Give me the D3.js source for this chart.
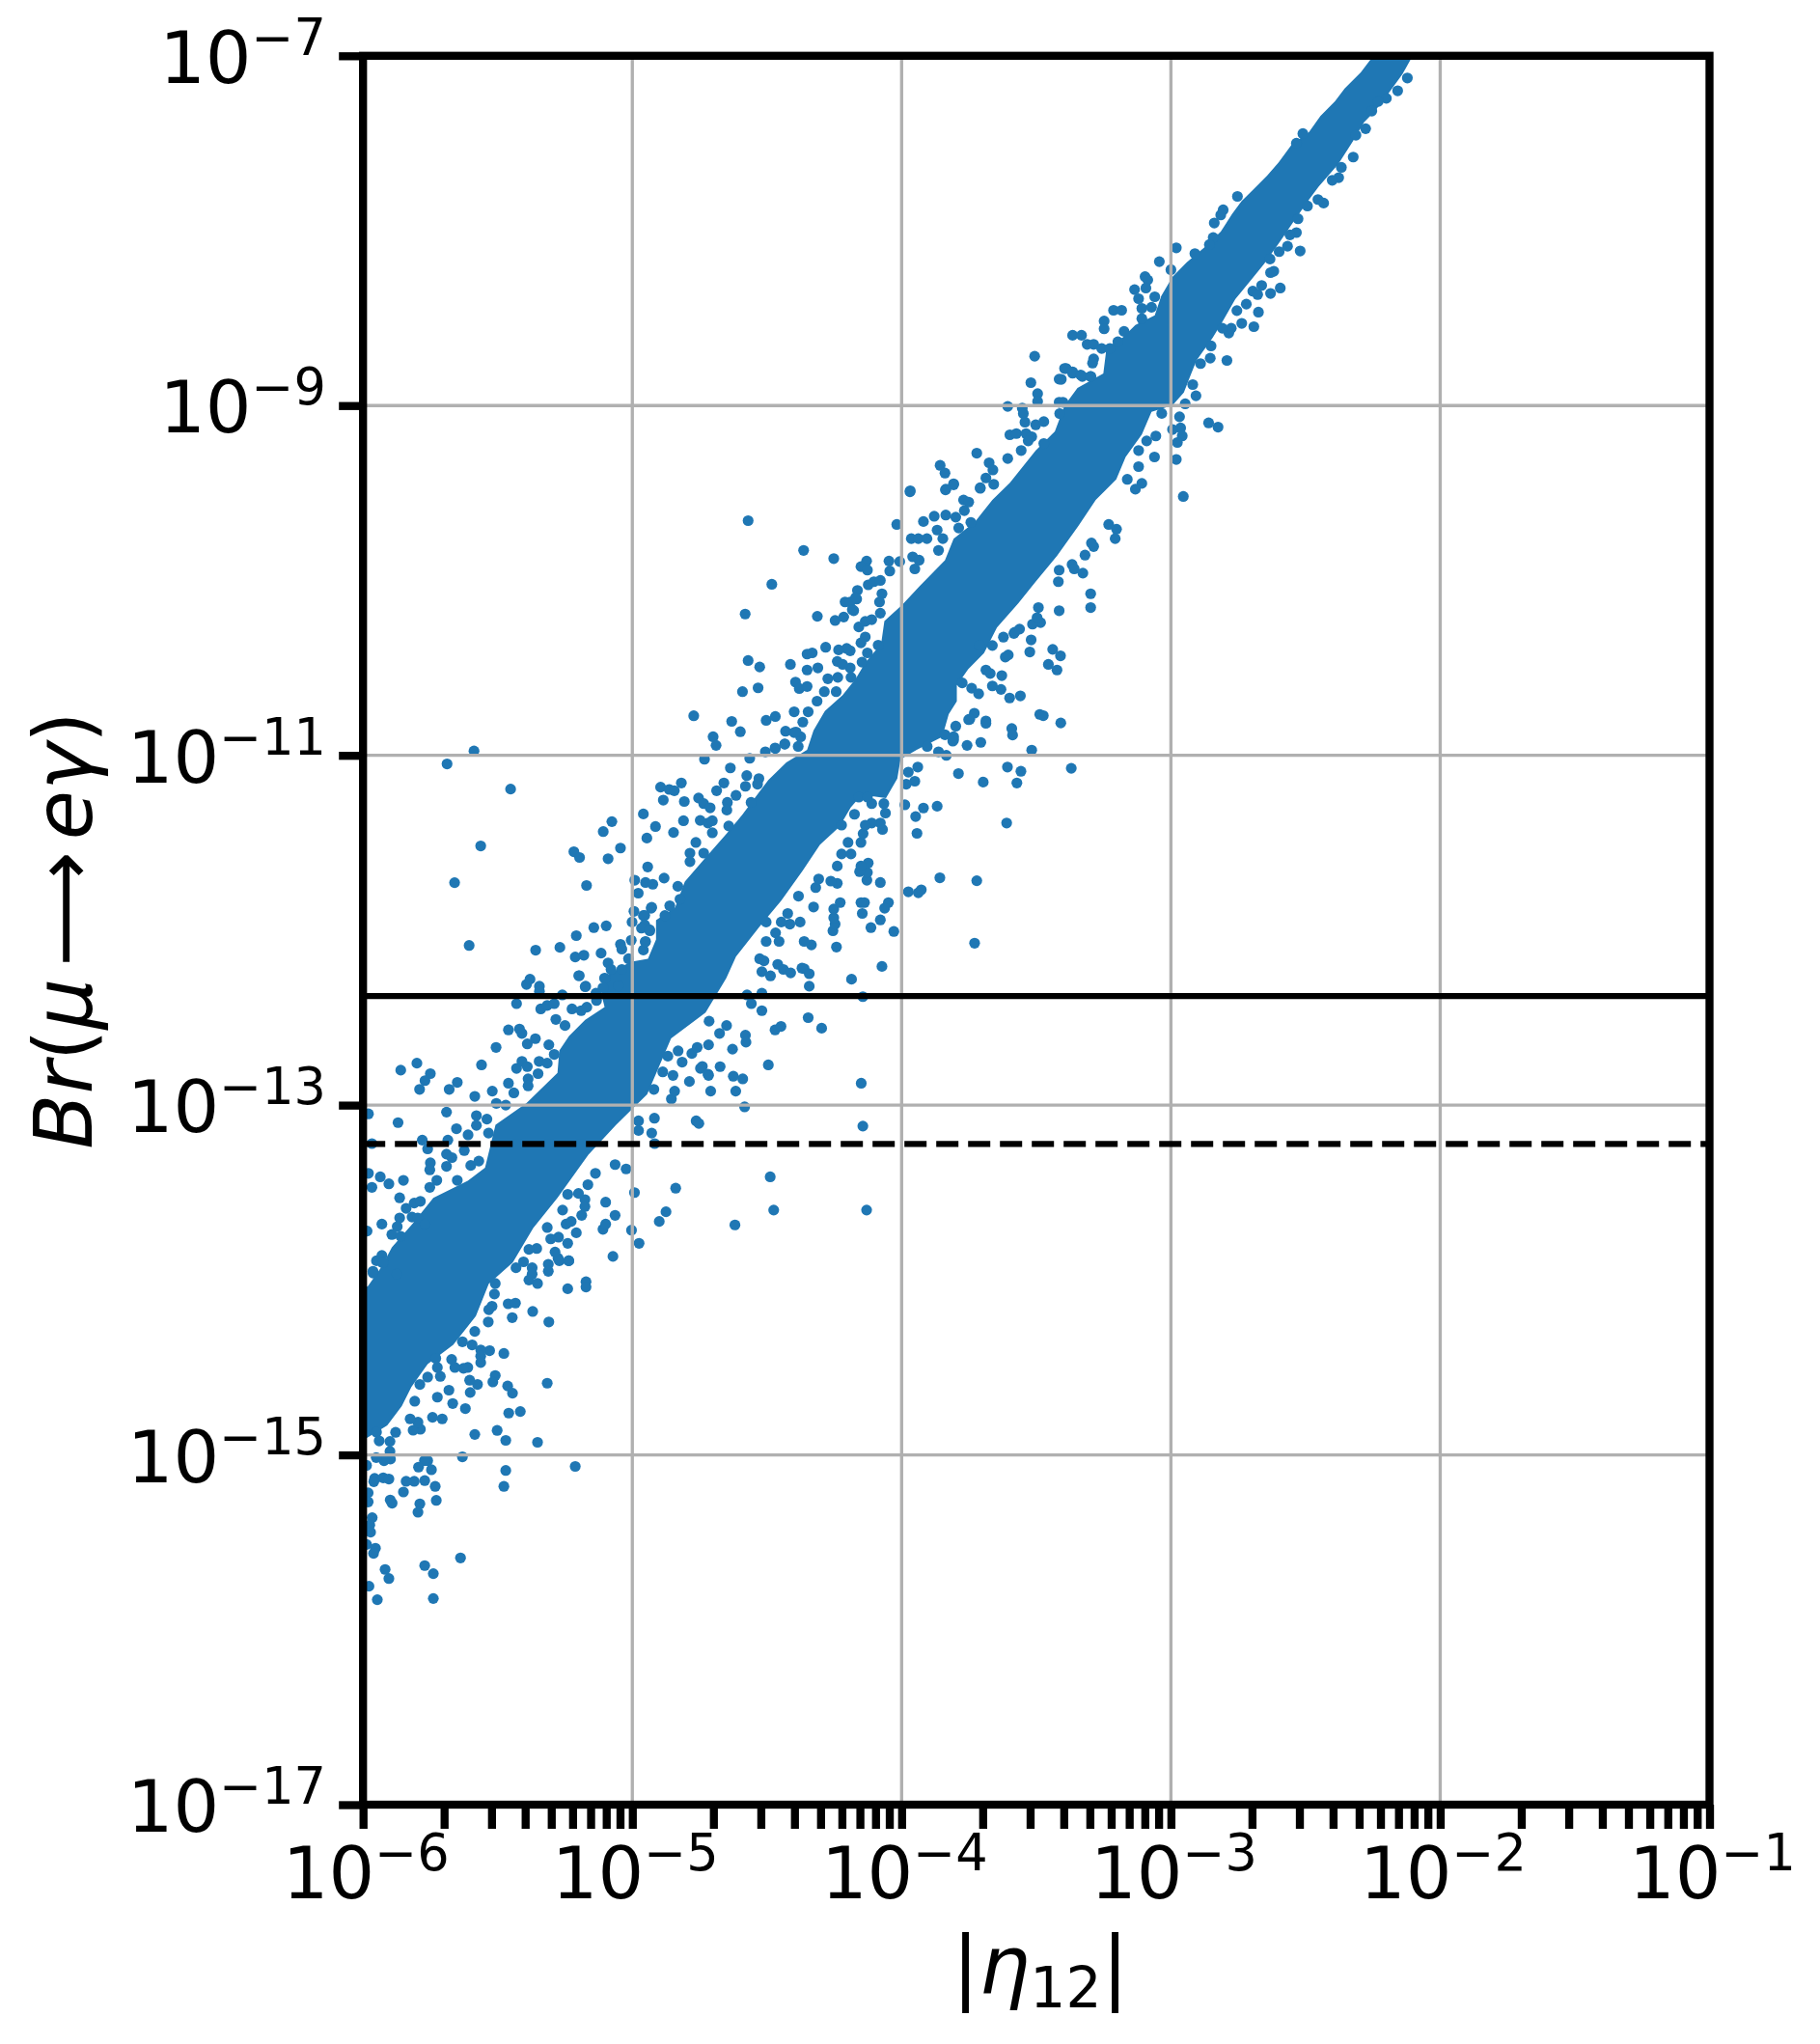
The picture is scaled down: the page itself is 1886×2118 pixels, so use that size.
<!DOCTYPE html>
<html>
<head>
<meta charset="utf-8">
<title>Br(mu -> e gamma) vs eta12</title>
<script src="https://cdn.jsdelivr.net/npm/d3@7"></script>
<style>
    body { margin: 0; background: #fff; }
    text { font-family: "DejaVu Sans", sans-serif; fill: #000; }
</style>
</head>
<body>
<div id="chart"></div>
<script>
// 坐标范围和刻度
const xExponents = [-6, -5, -4, -3, -2, -1];
const yExponents = [-7, -9, -11, -13, -15, -17];
const minorFactors = [2, 3, 4, 5, 6, 7, 8, 9];

// 两条水平限值线
const limitSolid = [4.2e-13];
const limitDashed = [6e-14];

// 所有点都是 [log10|eta12|, log10 Br]
// 密集带的上下边界（点太多，连成一片）
const coreUpperEdge = [[-2.17,-6.9],[-2.259,-7.022],[-2.295,-7.095],[-2.355,-7.187],[-2.391,-7.261],[-2.445,-7.344],[-2.487,-7.436],[-2.552,-7.509],[-2.6,-7.61],[-2.642,-7.684],[-2.69,-7.758],[-2.738,-7.831],[-2.773,-7.905],[-2.815,-8.006],[-2.863,-8.079],[-2.941,-8.181],[-2.994,-8.263],[-3.036,-8.374],[-3.06,-8.484],[-3.132,-8.539],[-3.18,-8.613],[-3.239,-8.669],[-3.251,-8.816],[-3.347,-8.899],[-3.395,-9.0],[-3.431,-9.147],[-3.502,-9.257],[-3.598,-9.441],[-3.663,-9.54],[-3.727,-9.663],[-3.807,-9.761],[-3.839,-9.884],[-3.932,-10.03],[-3.998,-10.14],[-4.064,-10.232],[-4.076,-10.361],[-4.135,-10.471],[-4.171,-10.563],[-4.219,-10.655],[-4.285,-10.747],[-4.327,-10.857],[-4.351,-10.968],[-4.428,-11.041],[-4.495,-11.141],[-4.543,-11.239],[-4.591,-11.338],[-4.649,-11.446],[-4.733,-11.593],[-4.805,-11.722],[-4.841,-11.869],[-4.912,-11.942],[-4.912,-12.053],[-4.942,-12.163],[-5.008,-12.181],[-5.091,-12.255],[-5.115,-12.365],[-5.103,-12.439],[-5.175,-12.513],[-5.235,-12.605],[-5.271,-12.687],[-5.278,-12.816],[-5.393,-12.988],[-5.508,-13.112],[-5.547,-13.358],[-5.611,-13.432],[-5.739,-13.53],[-5.816,-13.678],[-5.893,-13.813],[-5.931,-13.924],[-5.982,-14.035],[-6.1,-14.12]];
const coreLowerEdge = [[-6.1,-14.94],[-5.987,-14.905],[-5.91,-14.831],[-5.856,-14.721],[-5.82,-14.61],[-5.76,-14.481],[-5.665,-14.371],[-5.581,-14.206],[-5.533,-14.022],[-5.444,-13.9],[-5.368,-13.703],[-5.278,-13.53],[-5.163,-13.284],[-5.06,-13.112],[-4.945,-12.939],[-4.856,-12.619],[-4.728,-12.471],[-4.651,-12.274],[-4.615,-12.151],[-4.527,-11.979],[-4.447,-11.831],[-4.367,-11.658],[-4.303,-11.511],[-4.231,-11.409],[-4.189,-11.299],[-4.148,-11.225],[-4.058,-11.244],[-4.016,-11.133],[-4.004,-11.023],[-3.944,-10.968],[-3.849,-10.894],[-3.825,-10.765],[-3.795,-10.692],[-3.795,-10.6],[-3.753,-10.508],[-3.694,-10.416],[-3.646,-10.269],[-3.567,-10.131],[-3.503,-10.008],[-3.423,-9.86],[-3.343,-9.687],[-3.279,-9.54],[-3.203,-9.422],[-3.168,-9.294],[-3.108,-9.165],[-3.072,-9.036],[-2.994,-8.999],[-2.952,-8.926],[-2.929,-8.834],[-2.905,-8.742],[-2.845,-8.613],[-2.809,-8.521],[-2.761,-8.392],[-2.702,-8.282],[-2.654,-8.19],[-2.594,-8.061],[-2.546,-7.951],[-2.487,-7.822],[-2.451,-7.748],[-2.379,-7.62],[-2.325,-7.491],[-2.283,-7.38],[-2.242,-7.316],[-2.188,-7.206],[-2.14,-7.105],[-2.11,-7.022],[-2.06,-6.9]];

// 左下尾部的散点
const tailPoints = [[-5.928,-13.9],[-5.963,-13.96],[-5.874,-13.966],[-5.432,-13.93],[-5.404,-13.896],[-5.372,-13.93],[-5.372,-13.966],[-5.384,-14.0],[-5.352,-14.02],[-5.312,-13.91],[-5.312,-13.95],[-5.276,-13.875],[-5.509,-14.02],[-5.512,-14.08],[-5.521,-14.15],[-5.533,-14.17],[-5.072,-13.865],[-5.236,-13.89],[-5.172,-14.01],[-5.172,-14.04],[-5.24,-14.05],[-5.31,-14.24],[-5.37,-14.18],[-5.446,-14.215],[-5.461,-14.136],[-5.434,-14.132],[-5.477,-14.42],[-5.535,-14.24],[-5.585,-14.294],[-5.316,-14.59],[-5.509,-14.546],[-5.518,-14.583],[-5.463,-14.606],[-5.445,-14.647],[-5.416,-14.752],[-5.459,-14.761],[-5.502,-14.86],[-5.47,-14.917],[-5.352,-14.928],[-5.585,-14.883],[-5.62,-14.735],[-5.667,-14.706],[-5.602,-14.643],[-5.575,-14.597],[-5.604,-14.573],[-5.681,-14.63],[-5.563,-14.472],[-5.53,-14.404],[-5.563,-14.4],[-5.563,-14.435],[-5.595,-14.371],[-5.631,-14.353],[-5.611,-14.5],[-5.627,-14.505],[-5.659,-14.5],[-5.671,-14.454],[-5.706,-14.794],[-5.742,-14.785],[-5.787,-14.853],[-5.814,-14.859],[-5.796,-14.813],[-5.825,-14.794],[-5.808,-14.693],[-5.789,-14.597],[-5.724,-14.67],[-5.713,-14.551],[-5.76,-14.555],[-5.724,-14.5],[-5.73,-14.448],[-5.879,-14.871],[-5.9,-14.923],[-5.631,-15.011],[-5.76,-15.033],[-5.772,-15.033],[-5.794,-15.07],[-5.746,-15.085],[-5.47,-15.089],[-5.212,-15.066],[-5.477,-15.18],[-5.771,-15.147],[-5.81,-15.151],[-5.84,-15.151],[-5.85,-15.212],[-5.732,-15.18],[-5.728,-15.26],[-5.789,-15.28],[-5.796,-15.328],[-5.899,-15.258],[-5.892,-15.276],[-5.957,-15.134],[-5.925,-15.131],[-5.904,-15.138],[-5.96,-15.153],[-5.898,-15.024],[-5.922,-15.033],[-5.951,-15.015],[-5.981,-15.217],[-5.981,-15.269],[-5.966,-15.359],[-5.975,-15.401],[-5.972,-15.442],[-5.987,-15.512],[-5.954,-15.534],[-5.961,-15.563],[-5.638,-15.589],[-5.771,-15.633],[-5.739,-15.679],[-5.918,-15.655],[-5.904,-15.707],[-5.978,-15.751],[-5.947,-15.828],[-5.739,-15.821],[-5.987,-15.06],[-5.95,-14.87],[-5.94,-14.92],[-5.9,-14.98]];

// 10^-13 附近，带的上方
const lowerAbovePoints = [[-5.86,-12.8],[-5.8,-12.76],[-5.75,-12.82],[-5.77,-12.86],[-5.79,-12.91],[-5.65,-12.87],[-5.68,-12.91],[-5.56,-12.77],[-5.585,-12.95],[-5.52,-12.92],[-5.506,-12.67],[-5.46,-12.875],[-5.44,-12.93],[-5.505,-12.99],[-5.47,-13.0],[-5.43,-12.79],[-5.41,-12.75],[-5.39,-12.78],[-5.46,-12.57],[-5.419,-12.565],[-5.41,-12.59],[-5.39,-12.65],[-5.36,-12.62],[-5.43,-12.42],[-5.393,-12.31],[-5.38,-12.28],[-5.345,-12.32],[-5.345,-12.35],[-5.26,-12.37],[-5.197,-12.26],[-5.173,-12.32],[-5.34,-12.45],[-5.316,-12.43],[-5.29,-12.42],[-5.284,-12.51],[-5.25,-12.545],[-5.224,-12.45],[-5.19,-12.46],[-5.31,-12.655],[-5.346,-12.75],[-5.316,-12.76],[-5.29,-12.71],[-5.35,-12.82],[-5.387,-12.85],[-5.387,-12.89],[-5.69,-13.04],[-5.87,-13.1],[-5.98,-13.05],[-5.967,-13.22],[-5.78,-13.2],[-5.685,-13.2],[-5.76,-13.25],[-5.653,-13.135],[-5.61,-13.17],[-5.579,-13.06],[-5.579,-13.116],[-5.54,-13.08],[-5.534,-13.16],[-5.624,-13.26],[-5.69,-13.28],[-5.67,-13.3],[-5.69,-13.35],[-5.75,-13.33],[-5.752,-13.37],[-5.98,-13.39],[-5.936,-13.41],[-5.904,-13.45],[-5.85,-13.43],[-5.967,-13.47],[-5.864,-13.53],[-5.84,-13.59],[-5.81,-13.56],[-5.787,-13.55],[-5.864,-13.645],[-5.873,-13.695],[-5.93,-13.68],[-5.818,-13.64],[-5.797,-13.645],[-5.985,-13.72],[-5.893,-13.74],[-5.86,-13.75],[-5.93,-13.86],[-5.95,-13.89],[-5.925,-13.9],[-5.77,-13.68],[-5.726,-13.43],[-5.752,-13.47],[-5.963,-13.95],[-5.65,-13.43],[-5.6,-13.345],[-5.57,-13.32],[-5.588,-10.975],[-5.688,-11.049],[-5.452,-11.193],[-5.563,-11.518],[-5.66,-11.728],[-5.606,-12.087],[-5.217,-11.551],[-5.208,-12.031],[-5.269,-12.098],[-5.359,-12.114],[-5.212,-12.153],[-5.199,-12.26]];

// 10^-13 附近，带的下方
const lowerBelowPoints = [[-4.186,-12.28],[-4.144,-12.38],[-4.343,-12.32],[-4.362,-12.22],[-4.519,-12.46],[-4.519,-12.36],[-4.574,-12.37],[-4.558,-12.42],[-4.347,-12.5],[-4.297,-12.56],[-4.47,-12.57],[-4.448,-12.55],[-4.58,-12.6],[-4.578,-12.64],[-4.628,-12.68],[-4.495,-12.77],[-4.674,-12.78],[-4.625,-12.835],[-4.59,-12.85],[-4.616,-12.92],[-4.583,-13.01],[-4.709,-12.92],[-4.717,-12.83],[-4.747,-12.79],[-4.788,-12.865],[-4.763,-13.09],[-4.753,-13.105],[-4.15,-12.875],[-4.144,-13.12],[-4.488,-13.41],[-4.475,-13.6],[-4.13,-13.6],[-4.619,-13.685],[-4.839,-13.475],[-4.875,-13.61],[-4.9,-13.665],[-4.992,-13.5],[-5.064,-13.63],[-5.099,-13.555],[-5.003,-13.715],[-4.975,-13.79],[-5.023,-13.365],[-5.064,-13.34],[-5.137,-13.39],[-5.165,-13.455],[-4.918,-13.075],[-4.928,-13.16],[-4.917,-13.22],[-4.977,-13.09],[-4.977,-13.145],[-4.855,-12.965],[-4.843,-12.92],[-4.92,-12.91],[-4.779,-12.705],[-4.759,-12.67],[-4.717,-12.655],[-4.715,-12.52],[-4.65,-12.545],[-4.676,-12.59],[-4.868,-12.72],[-4.83,-12.69],[-4.887,-12.81],[-4.849,-12.83],[-5.176,-13.54],[-5.176,-13.58],[-5.188,-13.63],[-5.24,-13.51],[-5.2,-13.505],[-5.259,-13.6],[-5.246,-13.68],[-5.227,-13.665],[-5.208,-13.73],[-5.109,-13.71],[-5.099,-13.68],[-5.24,-13.79],[-5.274,-13.755],[-5.316,-13.7],[-5.303,-13.765],[-5.287,-13.84],[-5.271,-13.89],[-5.236,-13.89],[-5.355,-13.82],[-5.384,-13.825],[-4.815,-12.754],[-4.74,-12.779],[-4.719,-12.823]];

// 10^-11 附近，带的上方
const midAbovePoints = [[-4.57,-9.658],[-4.364,-9.828],[-4.252,-9.875],[-4.482,-10.022],[-4.581,-10.192],[-4.313,-10.205],[-3.969,-9.493],[-4.018,-9.68],[-3.919,-9.663],[-3.879,-9.633],[-3.836,-9.478],[-3.807,-9.453],[-3.708,-9.47],[-3.77,-9.54],[-3.751,-9.552],[-3.767,-9.601],[-3.799,-9.638],[-3.836,-9.626],[-3.743,-9.668],[-3.788,-9.7],[-3.868,-9.712],[-3.847,-9.761],[-3.964,-9.761],[-3.938,-9.761],[-3.906,-9.761],[-3.863,-9.828],[-4.047,-9.889],[-4.007,-9.892],[-4.044,-9.946],[-4.13,-9.889],[-4.151,-9.921],[-4.127,-9.941],[-3.959,-9.865],[-3.935,-9.884],[-3.951,-9.934],[-4.164,-10.057],[-4.167,-10.106],[-4.21,-10.123],[-4.191,-10.123],[-4.178,-10.173],[-4.124,-10.025],[-4.103,-10.007],[-4.079,-10.0],[-4.073,-10.076],[-4.082,-10.123],[-4.079,-10.187],[-4.247,-10.229],[-4.215,-10.209],[-4.159,-10.266],[-4.135,-10.234],[-4.111,-10.224],[-4.135,-10.323],[-4.151,-10.357],[-4.087,-10.37],[-4.127,-10.414],[-4.191,-10.402],[-4.204,-10.389],[-4.234,-10.397],[-4.282,-10.382],[-4.351,-10.421],[-4.332,-10.414],[-4.57,-10.458],[-4.527,-10.495],[-4.413,-10.48],[-4.351,-10.512],[-4.311,-10.5],[-4.394,-10.581],[-4.38,-10.618],[-4.351,-10.606],[-4.591,-10.636],[-4.533,-10.614],[-4.287,-10.636],[-4.314,-10.69],[-4.239,-10.463],[-4.191,-10.5],[-4.188,-10.554],[-4.274,-10.562],[-4.772,-10.774],[-4.631,-10.806],[-4.599,-10.865],[-4.503,-10.8],[-4.469,-10.778],[-4.7,-10.894],[-4.689,-10.943],[-4.399,-10.751],[-4.367,-10.81],[-4.431,-10.862],[-4.399,-10.87],[-4.375,-10.894],[-4.434,-10.936],[-4.469,-10.961],[-4.506,-10.98],[-4.732,-11.022],[-4.564,-11.017],[-4.636,-11.072],[-4.66,-11.158],[-4.575,-11.116],[-4.53,-11.133],[-4.535,-11.165],[-4.58,-11.177],[-4.895,-11.182],[-4.863,-11.195],[-4.844,-11.202],[-4.818,-11.158],[-4.885,-11.256],[-4.807,-11.264],[-4.754,-11.244],[-4.735,-11.276],[-4.711,-11.3],[-4.687,-11.202],[-4.615,-11.229],[-4.647,-11.269],[-4.649,-11.313],[-4.559,-11.269],[-4.959,-11.335],[-4.914,-11.407],[-4.81,-11.374],[-4.748,-11.372],[-4.719,-11.387],[-4.703,-11.374],[-5.076,-11.379],[-5.108,-11.436],[-4.847,-11.441],[-4.946,-11.473],[-5.044,-11.53],[-5.09,-11.591],[-5.196,-11.584],[-4.703,-11.443],[-4.642,-11.404],[-4.764,-11.498],[-4.786,-11.559],[-4.786,-11.608],[-4.735,-11.559],[-4.943,-11.638],[-4.882,-11.702],[-4.991,-11.714],[-4.951,-11.727],[-4.924,-11.737],[-5.17,-11.744],[-4.978,-11.788],[-4.831,-11.749],[-4.823,-11.823],[-4.861,-11.86],[-4.994,-11.892],[-4.93,-11.874],[-4.959,-11.916],[-4.879,-11.916],[-5.001,-11.953],[-4.956,-11.978],[-4.935,-12.003],[-5.143,-11.985],[-5.097,-11.975],[-5.044,-12.081],[-5.004,-12.057],[-4.951,-12.064],[-4.959,-12.113],[-5.039,-12.108],[-5.116,-12.131],[-5.18,-12.143],[-5.09,-12.187],[-5.079,-12.224],[-5.039,-12.224],[-5.103,-12.274],[-5.175,-12.323],[-5.052,-12.318],[-5.135,-12.36],[-4.171,-10.099],[-4.183,-10.167],[-4.219,-10.48],[-4.147,-10.467],[-4.237,-10.554],[-4.243,-10.636],[-4.347,-10.751],[-4.392,-10.867],[-4.47,-10.958],[-4.434,-10.935],[-4.384,-10.949],[-4.928,-11.869],[-4.954,-11.915],[-4.954,-11.97],[-4.966,-11.988],[-4.936,-11.997],[-4.952,-12.067],[-5.014,-12.163],[-5.101,-12.277],[-5.109,-12.329],[-5.133,-12.402],[-5.169,-12.44]];

// 10^-11 附近，带的下方
const midBelowPoints = [[-3.202,-9.707],[-3.207,-9.761],[-3.231,-9.68],[-3.298,-10.076],[-3.298,-10.155],[-3.319,-9.855],[-3.327,-9.958],[-3.367,-9.909],[-3.359,-9.934],[-3.287,-9.806],[-3.295,-9.786],[-3.415,-10.173],[-3.418,-10.007],[-3.415,-9.941],[-3.492,-10.155],[-3.484,-10.241],[-3.519,-10.34],[-3.524,-10.409],[-3.439,-10.394],[-3.41,-10.431],[-3.455,-10.48],[-3.423,-10.512],[-3.583,-10.303],[-3.615,-10.438],[-3.604,-10.426],[-3.663,-10.372],[-3.711,-10.37],[-3.628,-10.544],[-3.687,-10.512],[-3.671,-10.532],[-3.663,-10.603],[-3.631,-10.623],[-3.599,-10.672],[-3.559,-10.66],[-3.74,-10.616],[-3.714,-10.648],[-3.775,-10.586],[-3.487,-10.766],[-3.474,-10.773],[-3.409,-10.815],[-3.591,-10.847],[-3.588,-10.884],[-3.517,-10.97],[-3.687,-10.803],[-3.73,-10.759],[-3.751,-10.796],[-3.706,-10.926],[-3.757,-10.943],[-3.807,-10.894],[-3.799,-10.833],[-3.81,-10.919],[-3.839,-10.882],[-3.863,-10.98],[-3.834,-11.0],[-3.607,-11.067],[-3.557,-11.091],[-3.37,-11.074],[-3.572,-11.158],[-3.697,-11.153],[-3.789,-11.104],[-3.94,-11.067],[-3.975,-11.096],[-3.951,-11.148],[-3.983,-11.165],[-3.988,-11.283],[-3.919,-11.301],[-3.868,-11.291],[-3.948,-11.35],[-3.943,-11.446],[-3.61,-11.387],[-3.858,-11.7],[-3.721,-11.717],[-3.975,-11.78],[-3.938,-11.786],[-3.927,-11.769],[-4.079,-11.727],[-4.049,-11.842],[-4.063,-11.874],[-4.138,-11.842],[-4.151,-11.842],[-4.146,-11.904],[-4.079,-11.941],[-4.114,-11.985],[-4.029,-12.007],[-3.729,-12.074],[-4.073,-12.207],[-4.242,-12.096],[-4.335,-12.084],[-4.362,-12.064],[-4.255,-12.003],[-4.247,-11.965],[-4.252,-11.929],[-4.252,-11.879],[-4.228,-11.842],[-4.377,-11.953],[-4.415,-11.965],[-4.447,-11.953],[-4.503,-11.953],[-4.423,-11.904],[-4.327,-11.867],[-4.383,-11.805],[-4.319,-11.756],[-4.239,-11.732],[-4.263,-11.719],[-4.308,-11.707],[-4.129,-11.714],[-4.127,-11.67],[-4.156,-11.665],[-4.124,-11.616],[-4.151,-11.633],[-4.239,-11.633],[-4.223,-11.564],[-4.188,-11.564],[-4.199,-11.498],[-4.151,-11.498],[-4.143,-11.448],[-4.071,-11.424],[-4.079,-11.387],[-4.111,-11.387],[-4.135,-11.399],[-4.06,-11.33],[-4.066,-11.276],[-4.111,-11.276],[-4.159,-11.239],[-4.127,-11.239],[-4.175,-11.337],[-4.223,-11.399],[-4.468,-12.015],[-4.455,-12.064],[-4.503,-12.064],[-4.527,-12.163],[-4.511,-12.175],[-4.519,-12.237],[-4.487,-12.261],[-4.46,-12.195],[-4.439,-12.224],[-4.412,-12.244],[-4.37,-12.217],[-4.343,-12.249],[-3.622,-10.324],[-3.58,-10.296],[-3.562,-10.278],[-3.514,-10.25],[-3.497,-10.213],[-3.747,-10.793],[-3.687,-10.817],[-3.807,-10.912],[-3.905,-10.949]];

// 右上段
const upperAbovePoints = [[-2.753,-7.804],[-2.806,-7.881],[-2.815,-7.91],[-2.839,-7.956],[-2.843,-8.039],[-2.857,-8.079],[-2.911,-8.131],[-2.98,-8.098],[-3.043,-8.177],[-3.0,-8.223],[-3.096,-8.263],[-3.086,-8.282],[-3.093,-8.328],[-3.135,-8.337],[-3.12,-8.389],[-3.06,-8.378],[-3.108,-8.444],[-3.072,-8.438],[-3.213,-8.455],[-3.183,-8.455],[-3.108,-8.503],[-3.248,-8.517],[-3.248,-8.561],[-3.174,-8.576],[-3.197,-8.635],[-3.365,-8.598],[-3.332,-8.598],[-3.311,-8.65],[-3.287,-8.65],[-3.257,-8.674],[-3.227,-8.674],[-3.287,-8.733],[-3.291,-8.757],[-3.389,-8.788],[-3.365,-8.815],[-3.329,-8.834],[-3.297,-8.834],[-2.51,-7.445],[-2.534,-7.5],[-3.407,-8.85],[-3.506,-8.718],[-3.52,-8.869],[-3.495,-8.932],[-3.495,-8.976],[-3.606,-9.005],[-3.552,-9.015],[-3.548,-9.046],[-3.542,-9.095],[-3.502,-9.11],[-3.472,-9.092],[-3.598,-9.167],[-3.574,-9.16],[-3.538,-9.16],[-3.517,-9.178],[-3.53,-9.202],[-3.472,-9.217],[-3.556,-9.257],[-3.721,-9.272],[-3.675,-9.327],[-3.661,-9.368],[-3.606,-9.303],[-3.857,-9.342],[-3.839,-9.386],[-3.807,-9.447],[-3.687,-9.414],[-3.968,-9.487],[-3.837,-9.482],[-3.708,-9.473],[-3.658,-9.45],[-3.415,-8.849],[-3.395,-8.788],[-3.365,-8.807],[-3.335,-8.825],[-3.299,-8.834],[-3.415,-8.981],[-3.401,-8.981],[-3.413,-9.046]];
const upperBelowPoints = [[-2.122,-7.127],[-2.158,-7.2],[-2.2,-7.243],[-2.23,-7.261],[-2.254,-7.316],[-2.277,-7.417],[-2.313,-7.454],[-2.323,-7.579],[-2.367,-7.638],[-2.377,-7.697],[-2.401,-7.712],[-2.433,-7.842],[-2.454,-7.822],[-2.493,-7.859],[-2.528,-7.932],[-2.534,-8.011],[-2.558,-8.024],[-2.52,-8.116],[-2.567,-8.089],[-2.598,-8.12],[-2.632,-8.162],[-2.618,-8.232],[-2.63,-8.24],[-2.594,-8.328],[-2.63,-8.359],[-2.663,-8.313],[-2.696,-8.346],[-2.678,-8.365],[-2.675,-8.466],[-2.692,-8.549],[-2.737,-8.53],[-2.72,-8.42],[-2.755,-8.457],[-2.785,-8.585],[-2.776,-8.558],[-2.809,-8.558],[-2.851,-8.659],[-2.792,-8.742],[-2.854,-8.729],[-2.89,-8.76],[-2.919,-8.88],[-2.907,-8.944],[-2.947,-8.99],[-2.825,-9.123],[-2.86,-9.099],[-2.968,-9.064],[-2.964,-9.128],[-2.958,-9.174],[-2.994,-9.137],[-2.976,-9.211],[-3.034,-9.045],[-2.98,-9.308],[-3.061,-9.294],[-3.09,-9.202],[-3.056,-9.174],[-3.12,-9.257],[-3.12,-9.349],[-3.108,-9.445],[-3.132,-9.478],[-3.162,-9.422],[-2.954,-9.52]];

const allPoints = [].concat(tailPoints, lowerAbovePoints, lowerBelowPoints,
    midAbovePoints, midBelowPoints, upperAbovePoints, upperBelowPoints);

const chartWidth = 1886, chartHeight = 2118;
const plotLeft = 376.2, plotRight = 1771.5, plotTop = 57.8, plotBottom = 1870;
const blue = '#1f77b4', gridColor = '#b0b0b0';

const svg = d3.select('#chart').append('svg')
    .attr('width', chartWidth)
    .attr('height', chartHeight)
    .attr('viewBox', `0 0 ${chartWidth} ${chartHeight}`);

const x = d3.scaleLog().domain([1e-6, 1e-1]).range([plotLeft, plotRight]);
const y = d3.scaleLog().domain([1e-17, 1e-7]).range([plotBottom, plotTop]);

svg.append('defs').append('clipPath').attr('id', 'plotClip')
    .append('rect')
    .attr('x', plotLeft).attr('y', plotTop)
    .attr('width', plotRight - plotLeft).attr('height', plotBottom - plotTop);

const plot = svg.append('g').attr('clip-path', 'url(#plotClip)');

// 密集带
const edge = d3.line()
    .x(d => x(10 ** d[0]))
    .y(d => y(10 ** d[1]));
plot.append('path')
    .attr('d', edge(coreUpperEdge.concat(coreLowerEdge)) + 'Z')
    .attr('fill', blue);

// 散点
plot.selectAll('.point')
    .data(allPoints)
    .enter()
    .append('circle')
    .attr('class', 'point')
    .attr('cx', d => x(10 ** d[0]))
    .attr('cy', d => y(10 ** d[1]))
    .attr('r', 5.6)
    .attr('fill', blue);

// 网格线在散点上面
svg.append('g').selectAll('line')
    .data(xExponents)
    .enter()
    .append('line')
    .attr('x1', d => x(10 ** d)).attr('x2', d => x(10 ** d))
    .attr('y1', plotTop).attr('y2', plotBottom)
    .attr('stroke', gridColor).attr('stroke-width', 3.33);
svg.append('g').selectAll('line')
    .data(yExponents)
    .enter()
    .append('line')
    .attr('x1', plotLeft).attr('x2', plotRight)
    .attr('y1', d => y(10 ** d)).attr('y2', d => y(10 ** d))
    .attr('stroke', gridColor).attr('stroke-width', 3.33);

// 限值线
svg.append('line')
    .attr('x1', plotLeft).attr('x2', plotRight)
    .attr('y1', y(limitSolid[0])).attr('y2', y(limitSolid[0]))
    .attr('stroke', '#000').attr('stroke-width', 6.25);
svg.append('line')
    .attr('x1', plotLeft).attr('x2', plotRight)
    .attr('y1', y(limitDashed[0])).attr('y2', y(limitDashed[0]))
    .attr('stroke', '#000').attr('stroke-width', 6.25)
    .attr('stroke-dasharray', '23 10');

// 坐标轴
const xTicks = [];
xExponents.forEach(e => {
    xTicks.push(10 ** e);
    if (e < -1) minorFactors.forEach(f => xTicks.push(f * 10 ** e));
});
const xAxis = d3.axisBottom(x).tickValues(xTicks).tickSize(25).tickFormat('');
const yAxis = d3.axisLeft(y).tickValues(yExponents.map(e => 10 ** e)).tickSize(25).tickFormat('');

const xAxisG = svg.append('g').attr('transform', `translate(0, ${plotBottom})`).call(xAxis);
const yAxisG = svg.append('g').attr('transform', `translate(${plotLeft}, 0)`).call(yAxis);
[xAxisG, yAxisG].forEach(g => {
    g.select('.domain').remove();
    g.selectAll('line').attr('stroke', '#000').attr('stroke-width', 8.33);
});

// 边框
svg.append('rect')
    .attr('x', plotLeft).attr('y', plotTop)
    .attr('width', plotRight - plotLeft).attr('height', plotBottom - plotTop)
    .attr('fill', 'none')
    .attr('stroke', '#000').attr('stroke-width', 8.33);

// 刻度文字 10^n
function powerLabel(text, exponent) {
    text.attr('font-size', 75);
    text.append('tspan').text('10');
    text.append('tspan')
        .attr('font-size', 52.5)
        .attr('dy', -29)
        .text('\u2212' + Math.abs(exponent));
}

xExponents.forEach(e => {
    svg.append('text')
        .attr('x', x(10 ** e) + 3)
        .attr('y', plotBottom + 97)
        .attr('text-anchor', 'middle')
        .call(powerLabel, e);
});
yExponents.forEach(e => {
    svg.append('text')
        .attr('x', 338)
        .attr('y', y(10 ** e) + 28)
        .attr('text-anchor', 'end')
        .call(powerLabel, e);
});

// 坐标轴标题
const xLabel = svg.append('text')
    .attr('x', 1078)
    .attr('y', 2066)
    .attr('text-anchor', 'middle')
    .attr('font-size', 83.3);
xLabel.append('tspan').text('|');
xLabel.append('tspan').attr('font-style', 'italic').text('\u03b7');
xLabel.append('tspan').attr('font-size', 58.3).attr('dy', 14).text('12');
xLabel.append('tspan').attr('dy', -14).text('|');

const yLabel = svg.append('text')
    .attr('transform', 'translate(95, 964) rotate(-90)')
    .attr('text-anchor', 'middle')
    .attr('font-size', 83.3);
yLabel.append('tspan').attr('font-style', 'italic').text('Br');
yLabel.append('tspan').text('(');
yLabel.append('tspan').attr('font-style', 'italic').text('\u03bc');
yLabel.append('tspan').attr('dx', 12).text('\u27f6');
yLabel.append('tspan').attr('dx', 12).attr('font-style', 'italic').text('e\u03b3');
yLabel.append('tspan').text(')');
</script>
</body>
</html>
